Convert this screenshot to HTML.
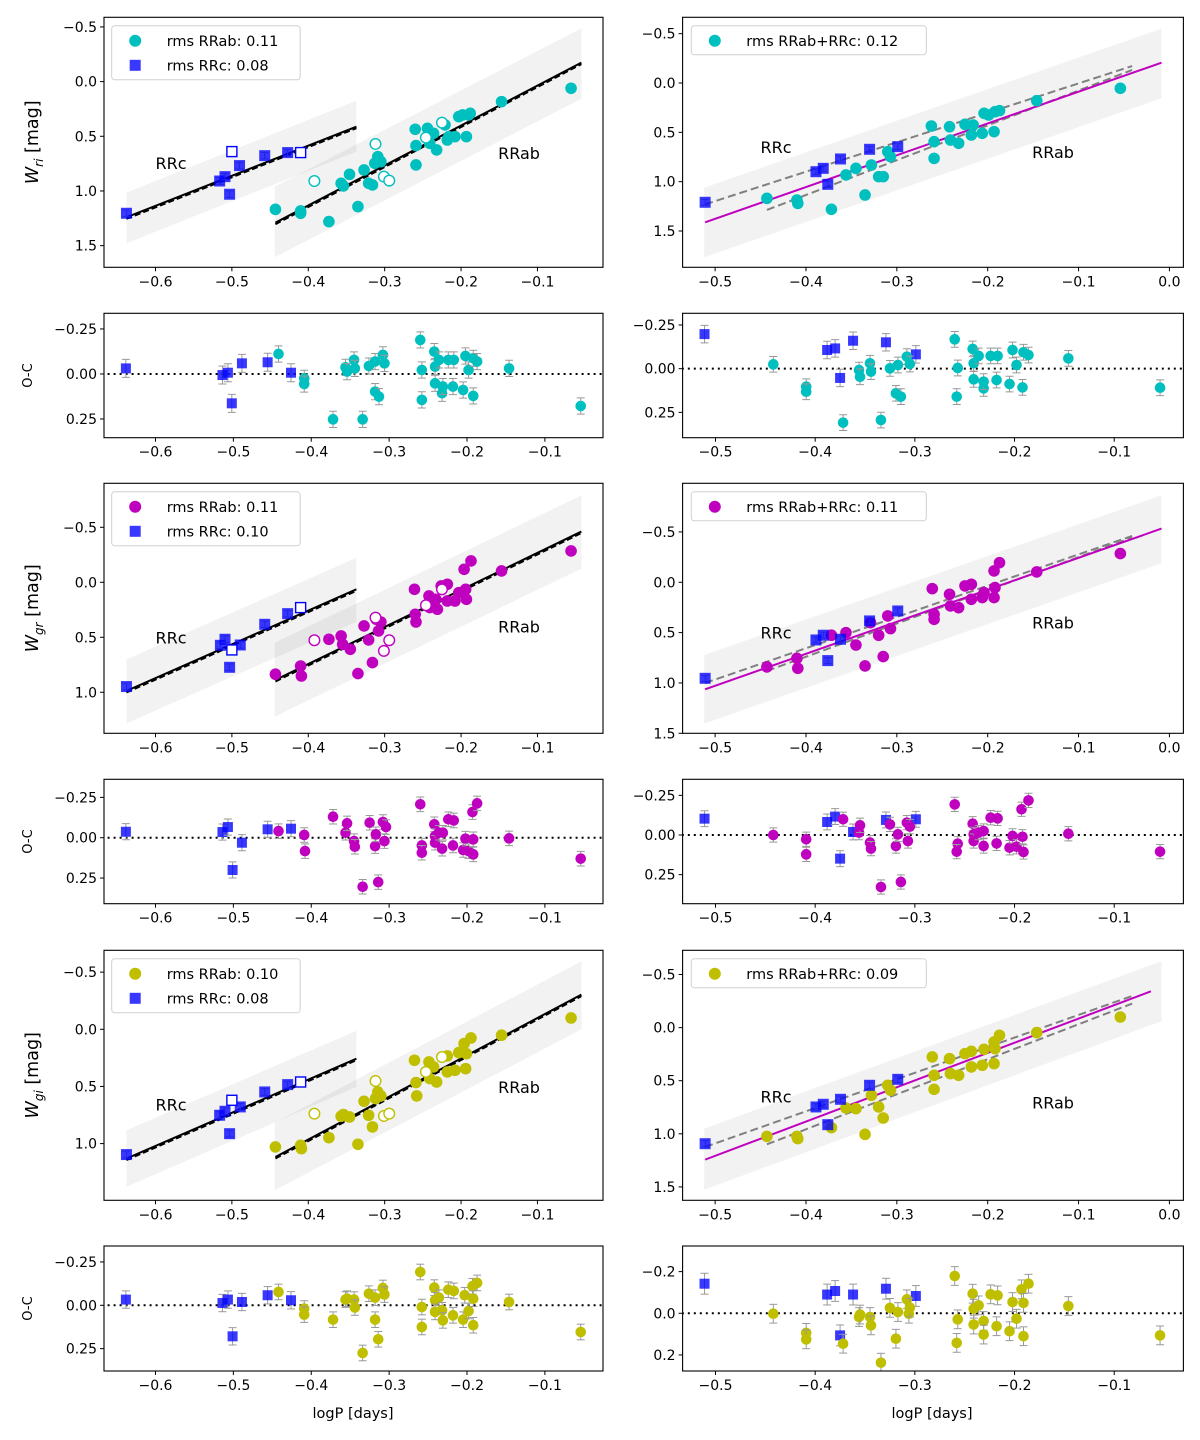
<!DOCTYPE html>
<html><head><meta charset="utf-8"><style>
html,body{margin:0;padding:0;background:#fff;}
svg{display:block;font-family:"DejaVu Sans","Liberation Sans",sans-serif;}
</style></head><body>
<svg id="fig" width="1200" height="1440" viewBox="0 0 1200 1440" xmlns="http://www.w3.org/2000/svg"></svg>
<script>
// ===== DATA (logP [days], magnitude) =====
// Row 1 : W_ri
const ri_rrab = [[-0.443,1.168],[-0.410,1.204],[-0.410,1.183],[-0.373,1.280],[-0.357,0.930],[-0.354,0.954],[-0.346,0.848],[-0.335,1.143],[-0.327,0.808],[-0.321,0.930],[-0.316,0.945],[-0.313,0.747],[-0.309,0.686],[-0.305,0.732],[-0.260,0.436],[-0.259,0.585],[-0.259,0.762],[-0.244,0.427],[-0.241,0.564],[-0.236,0.473],[-0.232,0.625],[-0.221,0.396],[-0.218,0.534],[-0.216,0.503],[-0.208,0.503],[-0.203,0.320],[-0.198,0.305],[-0.193,0.503],[-0.190,0.305],[-0.188,0.290],[-0.147,0.183],[-0.056,0.061]];
const ri_rrab_open = [[-0.392,0.909],[-0.312,0.570],[-0.301,0.869],[-0.294,0.905],[-0.246,0.512],[-0.225,0.375]];
const ri_rrc = [[-0.638,1.204],[-0.516,0.909],[-0.509,0.869],[-0.503,1.030],[-0.490,0.768],[-0.457,0.677],[-0.427,0.649]];
const ri_rrc_open = [[-0.500,0.640],[-0.410,0.649]];
const ri_fitRRc = [[-0.638,1.241],[-0.337,0.412]];
const ri_bandRRc = [[-0.638,1.015,1.479],[-0.337,0.174,0.640]];
const ri_fitRRab = [[-0.443,1.290],[-0.0425,-0.174]];
const ri_bandRRab = [[-0.444,0.960,1.607],[-0.0423,-0.488,0.155]];
const ri_all_rrab = [[-0.443,1.169],[-0.410,1.186],[-0.409,1.220],[-0.372,1.280],[-0.356,0.932],[-0.345,0.865],[-0.335,1.135],[-0.328,0.831],[-0.320,0.949],[-0.315,0.949],[-0.310,0.696],[-0.307,0.747],[-0.262,0.436],[-0.259,0.595],[-0.259,0.764],[-0.242,0.443],[-0.241,0.578],[-0.232,0.611],[-0.225,0.419],[-0.218,0.527],[-0.216,0.426],[-0.206,0.510],[-0.204,0.307],[-0.199,0.324],[-0.193,0.493],[-0.192,0.291],[-0.187,0.280],[-0.146,0.179],[-0.054,0.054]];
const ri_all_rrc = [[-0.511,1.209],[-0.389,0.899],[-0.381,0.865],[-0.376,1.027],[-0.362,0.770],[-0.330,0.672],[-0.299,0.645]];
const ri_all_fit = [[-0.511,1.412],[-0.0087,-0.206]];
const ri_all_band = [[-0.512,1.061,1.767],[-0.0087,-0.551,0.155]];
const ri_all_dash1 = [[-0.511,1.230],[-0.041,-0.172]];
const ri_all_dash2 = [[-0.443,1.287],[-0.041,-0.132]];
const ri_oc_rrc = [[-0.638,-0.031],[-0.514,0.006],[-0.507,-0.007],[-0.502,0.163],[-0.489,-0.059],[-0.456,-0.065],[-0.426,-0.007]];
const ri_oc_rrab = [[-0.442,-0.111],[-0.409,0.024],[-0.409,0.056],[-0.372,0.252],[-0.356,-0.037],[-0.354,-0.013],[-0.345,-0.078],[-0.344,-0.031],[-0.334,0.252],[-0.326,-0.044],[-0.318,-0.069],[-0.318,0.098],[-0.313,0.126],[-0.308,-0.106],[-0.306,-0.059],[-0.260,-0.189],[-0.258,-0.022],[-0.258,0.144],[-0.242,-0.124],[-0.241,-0.041],[-0.241,0.052],[-0.236,-0.078],[-0.232,0.107],[-0.231,0.070],[-0.224,-0.078],[-0.218,0.070],[-0.217,-0.078],[-0.205,0.089],[-0.202,-0.100],[-0.198,-0.022],[-0.192,0.122],[-0.192,-0.087],[-0.187,-0.069],[-0.146,-0.031],[-0.054,0.178]];
const ri_ocall_rrc = [[-0.511,-0.198],[-0.388,-0.107],[-0.380,-0.116],[-0.375,0.053],[-0.362,-0.160],[-0.329,-0.151],[-0.299,-0.082]];
const ri_ocall_rrab = [[-0.442,-0.025],[-0.409,0.103],[-0.409,0.132],[-0.372,0.309],[-0.356,0.008],[-0.355,0.046],[-0.345,-0.031],[-0.344,0.017],[-0.334,0.294],[-0.325,-0.002],[-0.319,0.141],[-0.317,-0.021],[-0.314,0.160],[-0.308,-0.069],[-0.305,-0.027],[-0.260,-0.168],[-0.257,-0.004],[-0.258,0.160],[-0.242,-0.113],[-0.241,-0.031],[-0.241,0.061],[-0.236,-0.073],[-0.231,0.113],[-0.231,0.074],[-0.224,-0.073],[-0.218,0.065],[-0.217,-0.073],[-0.205,0.088],[-0.202,-0.107],[-0.198,-0.021],[-0.192,0.107],[-0.191,-0.094],[-0.186,-0.078],[-0.146,-0.059],[-0.054,0.109]];
// Row 2 : W_gr
const gr_rrab = [[-0.443,0.836],[-0.410,0.761],[-0.409,0.852],[-0.373,0.518],[-0.357,0.488],[-0.355,0.564],[-0.345,0.609],[-0.335,0.830],[-0.327,0.397],[-0.321,0.524],[-0.316,0.730],[-0.311,0.336],[-0.308,0.442],[-0.305,0.361],[-0.261,0.064],[-0.260,0.291],[-0.259,0.361],[-0.242,0.124],[-0.241,0.230],[-0.233,0.155],[-0.231,0.245],[-0.226,0.033],[-0.218,0.018],[-0.218,0.170],[-0.208,0.170],[-0.203,0.094],[-0.198,0.094],[-0.196,-0.118],[-0.194,0.064],[-0.193,0.155],[-0.187,-0.194],[-0.147,-0.103],[-0.056,-0.285]];
const gr_rrab_open = [[-0.392,0.527],[-0.312,0.321],[-0.301,0.624],[-0.294,0.527],[-0.246,0.209],[-0.225,0.064]];
const gr_rrc = [[-0.638,0.948],[-0.515,0.573],[-0.509,0.518],[-0.503,0.773],[-0.489,0.570],[-0.457,0.382],[-0.427,0.285]];
const gr_rrc_open = [[-0.500,0.615],[-0.410,0.230]];
const gr_fitRRc = [[-0.638,0.988],[-0.337,0.064]];
const gr_bandRRc = [[-0.638,0.700,1.282],[-0.337,-0.224,0.361]];
const gr_fitRRab = [[-0.443,0.888],[-0.0425,-0.461]];
const gr_bandRRab = [[-0.444,0.548,1.221],[-0.0423,-0.791,-0.124]];
const gr_all_rrab = [[-0.443,0.841],[-0.410,0.755],[-0.409,0.854],[-0.372,0.526],[-0.356,0.500],[-0.345,0.623],[-0.335,0.831],[-0.329,0.401],[-0.320,0.526],[-0.315,0.738],[-0.310,0.334],[-0.307,0.460],[-0.261,0.063],[-0.259,0.318],[-0.259,0.368],[-0.242,0.119],[-0.241,0.235],[-0.232,0.252],[-0.225,0.036],[-0.218,0.020],[-0.218,0.169],[-0.206,0.152],[-0.204,0.103],[-0.193,-0.113],[-0.193,0.152],[-0.192,0.053],[-0.187,-0.195],[-0.146,-0.103],[-0.054,-0.285]];
const gr_all_rrc = [[-0.511,0.954],[-0.389,0.573],[-0.381,0.526],[-0.376,0.778],[-0.362,0.566],[-0.330,0.384],[-0.299,0.285]];
const gr_all_fit = [[-0.511,1.063],[-0.0087,-0.533]];
const gr_all_band = [[-0.512,0.722,1.404],[-0.0087,-0.864,-0.189]];
const gr_all_dash1 = [[-0.511,1.000],[-0.041,-0.460]];
const gr_all_dash2 = [[-0.443,0.881],[-0.041,-0.444]];
const gr_oc_rrc = [[-0.638,-0.037],[-0.514,-0.035],[-0.507,-0.066],[-0.501,0.200],[-0.489,0.031],[-0.456,-0.052],[-0.426,-0.056]];
const gr_oc_rrab = [[-0.442,-0.041],[-0.409,-0.017],[-0.408,0.083],[-0.372,-0.130],[-0.356,-0.031],[-0.354,-0.089],[-0.345,0.021],[-0.344,0.056],[-0.334,0.304],[-0.325,-0.093],[-0.318,0.052],[-0.317,-0.021],[-0.314,0.275],[-0.308,-0.097],[-0.306,0.021],[-0.304,-0.066],[-0.260,-0.207],[-0.258,0.048],[-0.258,0.093],[-0.242,-0.083],[-0.241,-0.010],[-0.241,0.031],[-0.236,-0.031],[-0.232,0.068],[-0.231,-0.031],[-0.224,-0.114],[-0.218,0.048],[-0.217,-0.107],[-0.205,0.076],[-0.202,0.006],[-0.198,0.083],[-0.193,-0.159],[-0.192,0.010],[-0.192,0.103],[-0.187,-0.213],[-0.146,0.004],[-0.054,0.130]];
const gr_ocall_rrc = [[-0.511,-0.103],[-0.388,-0.082],[-0.380,-0.116],[-0.375,0.149],[-0.362,-0.019],[-0.329,-0.095],[-0.299,-0.099]];
const gr_ocall_rrab = [[-0.442,0.000],[-0.409,0.027],[-0.409,0.122],[-0.372,-0.099],[-0.356,-0.015],[-0.355,-0.061],[-0.345,0.048],[-0.344,0.086],[-0.334,0.328],[-0.325,-0.067],[-0.319,0.069],[-0.317,-0.004],[-0.314,0.296],[-0.308,-0.078],[-0.307,0.038],[-0.305,-0.053],[-0.260,-0.193],[-0.257,0.055],[-0.258,0.105],[-0.242,-0.071],[-0.241,-0.004],[-0.241,0.038],[-0.236,-0.015],[-0.231,0.069],[-0.231,-0.025],[-0.224,-0.109],[-0.218,0.053],[-0.217,-0.105],[-0.205,0.080],[-0.202,0.006],[-0.198,0.074],[-0.193,-0.162],[-0.192,0.011],[-0.191,0.107],[-0.186,-0.218],[-0.146,-0.008],[-0.054,0.105]];
// Row 3 : W_gi
const gi_rrab = [[-0.443,1.029],[-0.410,1.015],[-0.409,1.044],[-0.373,0.948],[-0.357,0.761],[-0.354,0.746],[-0.346,0.767],[-0.335,1.006],[-0.327,0.630],[-0.321,0.752],[-0.316,0.854],[-0.312,0.606],[-0.309,0.548],[-0.305,0.583],[-0.261,0.271],[-0.259,0.466],[-0.258,0.583],[-0.242,0.286],[-0.241,0.431],[-0.236,0.329],[-0.232,0.461],[-0.218,0.233],[-0.218,0.373],[-0.208,0.359],[-0.203,0.204],[-0.196,0.125],[-0.194,0.344],[-0.193,0.213],[-0.187,0.076],[-0.147,0.052],[-0.056,-0.099]];
const gi_rrab_open = [[-0.392,0.738],[-0.312,0.452],[-0.301,0.758],[-0.294,0.738],[-0.246,0.373],[-0.225,0.242]];
const gi_rrc = [[-0.638,1.096],[-0.516,0.752],[-0.509,0.717],[-0.503,0.913],[-0.489,0.679],[-0.457,0.548],[-0.427,0.484]];
const gi_rrc_open = [[-0.500,0.621],[-0.410,0.461]];
const gi_fitRRc = [[-0.638,1.131],[-0.337,0.257]];
const gi_bandRRc = [[-0.638,0.883,1.379],[-0.337,0.012,0.504]];
const gi_fitRRab = [[-0.443,1.117],[-0.0425,-0.303]];
const gi_bandRRab = [[-0.444,0.816,1.408],[-0.0423,-0.595,0.0]];
const gi_all_rrab = [[-0.443,1.024],[-0.410,1.024],[-0.409,1.046],[-0.372,0.942],[-0.356,0.757],[-0.345,0.763],[-0.335,1.005],[-0.328,0.637],[-0.320,0.747],[-0.315,0.851],[-0.310,0.543],[-0.307,0.590],[-0.261,0.276],[-0.259,0.449],[-0.259,0.581],[-0.242,0.292],[-0.241,0.433],[-0.232,0.449],[-0.225,0.245],[-0.218,0.223],[-0.218,0.370],[-0.206,0.355],[-0.204,0.204],[-0.193,0.135],[-0.193,0.339],[-0.192,0.198],[-0.187,0.072],[-0.146,0.047],[-0.054,-0.100]];
const gi_all_rrc = [[-0.511,1.093],[-0.389,0.747],[-0.381,0.722],[-0.376,0.914],[-0.362,0.675],[-0.330,0.543],[-0.299,0.487]];
const gi_all_fit = [[-0.511,1.243],[-0.0204,-0.342]];
const gi_all_band = [[-0.512,0.951,1.526],[-0.0087,-0.625,-0.060]];
const gi_all_dash1 = [[-0.511,1.124],[-0.041,-0.298]];
const gi_all_dash2 = [[-0.443,1.099],[-0.041,-0.226]];
const gi_oc_rrc = [[-0.638,-0.033],[-0.514,-0.013],[-0.507,-0.033],[-0.501,0.179],[-0.489,-0.019],[-0.456,-0.058],[-0.426,-0.029]];
const gi_oc_rrab = [[-0.442,-0.077],[-0.409,0.019],[-0.409,0.054],[-0.372,0.083],[-0.356,-0.033],[-0.354,-0.038],[-0.345,-0.033],[-0.344,0.013],[-0.334,0.275],[-0.326,-0.067],[-0.318,-0.044],[-0.318,0.083],[-0.314,0.196],[-0.308,-0.100],[-0.306,-0.062],[-0.260,-0.192],[-0.258,0.010],[-0.258,0.125],[-0.242,-0.102],[-0.241,-0.029],[-0.241,0.038],[-0.236,-0.044],[-0.232,0.029],[-0.231,0.087],[-0.224,-0.090],[-0.218,0.058],[-0.217,-0.083],[-0.205,0.083],[-0.203,-0.058],[-0.198,0.033],[-0.193,-0.110],[-0.192,-0.038],[-0.192,0.115],[-0.187,-0.129],[-0.146,-0.019],[-0.054,0.154]];
const gi_ocall_rrc = [[-0.511,-0.142],[-0.388,-0.090],[-0.380,-0.107],[-0.362,-0.090],[-0.375,0.106],[-0.329,-0.118],[-0.299,-0.083]];
const gi_ocall_rrab = [[-0.442,0.002],[-0.409,0.094],[-0.409,0.125],[-0.372,0.146],[-0.356,0.018],[-0.355,0.006],[-0.345,0.018],[-0.344,0.058],[-0.334,0.237],[-0.325,-0.026],[-0.319,0.122],[-0.317,-0.006],[-0.308,-0.067],[-0.306,0.002],[-0.305,-0.027],[-0.260,-0.179],[-0.257,0.029],[-0.258,0.142],[-0.242,-0.094],[-0.241,-0.022],[-0.241,0.054],[-0.236,-0.038],[-0.231,0.037],[-0.231,0.102],[-0.224,-0.091],[-0.218,0.062],[-0.217,-0.086],[-0.205,0.086],[-0.202,-0.054],[-0.198,0.026],[-0.193,-0.115],[-0.191,-0.050],[-0.191,0.110],[-0.186,-0.142],[-0.146,-0.035],[-0.054,0.106]];
// legend labels
const rmsLeft = [["rms RRab: 0.11","rms RRc: 0.08"],["rms RRab: 0.11","rms RRc: 0.10"],["rms RRab: 0.10","rms RRc: 0.08"]];
const rmsRight = ["rms RRab+RRc: 0.12","rms RRab+RRc: 0.11","rms RRab+RRc: 0.09"];
const xticksLeft = [-0.6,-0.5,-0.4,-0.3,-0.2,-0.1];
const xticksRightMain = [-0.5,-0.4,-0.3,-0.2,-0.1,0.0];
const xticksRightOC = [-0.5,-0.4,-0.3,-0.2,-0.1];

// ===== RENDERING =====
const NS = "http://www.w3.org/2000/svg";
const fig = document.getElementById('fig');
function mk(tag, attrs, parent, text) {
  const e = document.createElementNS(NS, tag);
  for (const k in attrs) e.setAttribute(k, attrs[k]);
  if (text !== undefined) e.textContent = text;
  (parent || fig).appendChild(e);
  return e;
}
function fmt(v, d) { const s = Math.abs(v).toFixed(d); return (v < -1e-9 ? "\u2212" : "") + s; }
const BLUE = "rgba(0,0,255,0.78)";
const COL = { c: "#00bfbf", m: "#bf00bf", y: "#bfbf00" };

function makePanel(name, box, xlim, ylim) {
  const [x0, y0, x1, y1] = box;
  const g = mk('g', {});
  
  
  const p = {
    g, box,
    sx: v => x0 + (v - xlim[0]) / (xlim[1] - xlim[0]) * (x1 - x0),
    sy: v => y0 + (v - ylim[0]) / (ylim[1] - ylim[0]) * (y1 - y0)
  };
  const cp = mk('clipPath', { id: 'clip-' + name }, g);
  mk('rect', { x: x0, y: y0, width: x1 - x0, height: y1 - y0 }, cp);
  p.plot = mk('g', { 'clip-path': 'url(#clip-' + name + ')' }, g);
  return p;
}
function frame(p, xticks, xd, yticks, yd) {
  const [x0, y0, x1, y1] = p.box;
  const fr = mk('rect', { x: x0, y: y0, width: x1 - x0, height: y1 - y0, fill: 'none', stroke: '#000', 'stroke-width': 1.1 }, p.g);
  
  
  xticks.forEach(t => {
    const X = p.sx(t);
    mk('line', { x1: X, x2: X, y1: y1, y2: y1 + 4, stroke: '#000', 'stroke-width': 1 }, p.g);
    const tx = mk('text', { x: X, y: y1 + 19, 'text-anchor': 'middle', 'font-size': 14 }, p.g, fmt(t, xd));
    
    
  });
  yticks.forEach(t => {
    const Y = p.sy(t);
    mk('line', { x1: x0 - 4, x2: x0, y1: Y, y2: Y, stroke: '#000', 'stroke-width': 1 }, p.g);
    const ty = mk('text', { x: x0 - 7, y: Y + 5, 'text-anchor': 'end', 'font-size': 14 }, p.g, fmt(t, yd));
    
    
  });
}
function band(p, b, nm) {
  const pts = [[b[0][0], b[0][1]], [b[1][0], b[1][1]], [b[1][0], b[1][2]], [b[0][0], b[0][2]]]
    .map(q => p.sx(q[0]).toFixed(1) + ',' + p.sy(q[1]).toFixed(1)).join(' ');
  const e = mk('polygon', { points: pts, fill: '#000', 'fill-opacity': 0.05 }, p.plot);
  
  
}
function fitLine(p, l, color, w, dash, nm, dy) {
  const e = mk('line', { x1: p.sx(l[0][0]), y1: p.sy(l[0][1]) + (dy || 0), x2: p.sx(l[1][0]), y2: p.sy(l[1][1]) + (dy || 0), stroke: color, 'stroke-width': w }, p.plot);
  if (dash) e.setAttribute('stroke-dasharray', dash);
  
  
}
function errbar(p, x, y, err) {
  const X = p.sx(x), Ya = p.sy(y - err), Yb = p.sy(y + err);
  mk('line', { x1: X, x2: X, y1: Ya, y2: Yb, stroke: '#999', 'stroke-width': 1 }, p.plot);
  mk('line', { x1: X - 4, x2: X + 4, y1: Ya, y2: Ya, stroke: '#999', 'stroke-width': 1 }, p.plot);
  mk('line', { x1: X - 4, x2: X + 4, y1: Yb, y2: Yb, stroke: '#999', 'stroke-width': 1 }, p.plot);
}
function circles(p, data, color, open, err, nm, r) {
  data.forEach(d => {
    if (err) errbar(p, d[0], d[1], err);
    const c = mk('circle', { cx: p.sx(d[0]), cy: p.sy(d[1]), r: r || 5.8, fill: open ? '#fff' : color, stroke: color, 'stroke-width': open ? 1.4 : 0 }, p.plot);
    
    
  });
}
function squares(p, data, open, err, nm, s) {
  s = s || 11;
  data.forEach(d => {
    if (err) errbar(p, d[0], d[1], err);
    const q = mk('rect', { x: p.sx(d[0]) - s / 2, y: p.sy(d[1]) - s / 2, width: s, height: s, fill: open ? '#fff' : BLUE, stroke: open ? '#0000ff' : 'none', 'stroke-width': 1.4 }, p.plot);
    
    
  });
}
function txt(x, y, s, size, nm, anchor, rot) {
  const a = { x, y, 'font-size': size, 'text-anchor': anchor || 'middle' };
  if (rot) a.transform = 'rotate(-90 ' + x + ' ' + y + ')';
  const e = mk('text', a, fig, s);
  
  
  return e;
}
function legendBox(x, y, w, h, entries, color, nm) {
  const g = mk('g', {});
  
  
  mk('rect', { x, y, width: w, height: h, rx: 3, fill: '#fff', 'fill-opacity': 0.85, stroke: '#d0d0d0', 'stroke-width': 1 }, g);
  entries.forEach((en, i) => {
    const cy = y + 15 + i * 24.5;
    if (en.sq) mk('rect', { x: x + 18, y: cy - 5.5, width: 11, height: 11, fill: BLUE }, g);
    else mk('circle', { cx: x + 23.5, cy: cy, r: 6, fill: color }, g);
    const t = mk('text', { x: x + 55, y: cy + 5, 'font-size': 14.5 }, g, en.label);
    
    
  });
}

const LX = [104, 603], RX = [682.6, 1183.4];
const rows = [
  { main: [17.3, 267.3], oc: [313.3, 437.7], c: COL.c, lab: 'ri',
    yl: [-0.588, 1.698], yr: [-0.666, 1.868], ocl: [-0.337, 0.354], ocr: [-0.317, 0.395],
    ytl: [-0.5, 0, 0.5, 1.0, 1.5], ytr: [-0.5, 0, 0.5, 1.0, 1.5], octl: [-0.25, 0, 0.25], octr: [-0.25, 0, 0.25], ocrd: 2,
    d: { rrab: ri_rrab, rrabO: ri_rrab_open, rrc: ri_rrc, rrcO: ri_rrc_open, fc: ri_fitRRc, bc: ri_bandRRc, fa: ri_fitRRab, ba: ri_bandRRab,
      arab: ri_all_rrab, arc: ri_all_rrc, af: ri_all_fit, ab: ri_all_band, d1: ri_all_dash1, d2: ri_all_dash2,
      ocrc: ri_oc_rrc, ocab: ri_oc_rrab, ocarc: ri_ocall_rrc, ocaab: ri_ocall_rrab },
    rrcL: [156, 163], rrabL: [519, 153], rrcR: [776, 147], rrabR: [1053, 152] },
  { main: [483.3, 733.3], oc: [779.3, 903.7], c: COL.m, lab: 'gr',
    yl: [-0.900, 1.373], yr: [-0.983, 1.50], ocl: [-0.362, 0.409], ocr: [-0.351, 0.433],
    ytl: [-0.5, 0, 0.5, 1.0], ytr: [-0.5, 0, 0.5, 1.0, 1.5], octl: [-0.25, 0, 0.25], octr: [-0.25, 0, 0.25], ocrd: 2,
    d: { rrab: gr_rrab, rrabO: gr_rrab_open, rrc: gr_rrc, rrcO: gr_rrc_open, fc: gr_fitRRc, bc: gr_bandRRc, fa: gr_fitRRab, ba: gr_bandRRab,
      arab: gr_all_rrab, arc: gr_all_rrc, af: gr_all_fit, ab: gr_all_band, d1: gr_all_dash1, d2: gr_all_dash2,
      ocrc: gr_oc_rrc, ocab: gr_oc_rrab, ocarc: gr_ocall_rrc, ocaab: gr_ocall_rrab },
    rrcL: [156, 637.7], rrabL: [519, 626.7], rrcR: [776, 632.7], rrabR: [1053, 622.7] },
  { main: [950.3, 1200.3], oc: [1246, 1371], c: COL.y, lab: 'gi',
    yl: [-0.691, 1.496], yr: [-0.728, 1.626], ocl: [-0.342, 0.379], ocr: [-0.323, 0.277],
    ytl: [-0.5, 0, 0.5, 1.0], ytr: [-0.5, 0, 0.5, 1.0, 1.5], octl: [-0.25, 0, 0.25], octr: [-0.2, 0, 0.2], ocrd: 1,
    d: { rrab: gi_rrab, rrabO: gi_rrab_open, rrc: gi_rrc, rrcO: gi_rrc_open, fc: gi_fitRRc, bc: gi_bandRRc, fa: gi_fitRRab, ba: gi_bandRRab,
      arab: gi_all_rrab, arc: gi_all_rrc, af: gi_all_fit, ab: gi_all_band, d1: gi_all_dash1, d2: gi_all_dash2,
      ocrc: gi_oc_rrc, ocab: gi_oc_rrab, ocarc: gi_ocall_rrc, ocaab: gi_ocall_rrab },
    rrcL: [156, 1104.3], rrabL: [519, 1087], rrcR: [776, 1096.3], rrabR: [1053, 1102.7] }
];

rows.forEach((R, i) => {
  const d = R.d;
  const pl = makePanel('w' + R.lab + '-separate-fit-panel', [LX[0], R.main[0], LX[1], R.main[1]], [-0.6674, -0.0142], R.yl);
  band(pl, d.bc, 'rrc-scatter-band'); band(pl, d.ba, 'rrab-scatter-band');
  fitLine(pl, d.fc, '#000', 2, '6,3', 'rrc-fit-dashed', 1.5); fitLine(pl, d.fc, '#000', 2, null, 'rrc-fit-line');
  fitLine(pl, d.fa, '#000', 2, '6,3', 'rrab-fit-dashed', 1.5); fitLine(pl, d.fa, '#000', 2, null, 'rrab-fit-line');
  circles(pl, d.rrab, R.c, false, 0.035, 'rrab-point');
  circles(pl, d.rrabO, R.c, true, 0, 'rrab-excluded-point', 5.3);
  squares(pl, d.rrc, false, 0.03, 'rrc-point');
  squares(pl, d.rrcO, true, 0, 'rrc-excluded-point', 10);
  frame(pl, xticksLeft, 1, R.ytl, 1);
  const pr = makePanel('w' + R.lab + '-combined-fit-panel', [RX[0], R.main[0], RX[1], R.main[1]], [-0.5358, 0.0154], R.yr);
  band(pr, d.ab, 'combined-scatter-band');
  fitLine(pr, d.d1, '#808080', 2, '8,4', 'reference-fit-dashed-1');
  fitLine(pr, d.d2, '#808080', 2, '8,4', 'reference-fit-dashed-2');
  fitLine(pr, d.af, '#bf00bf', 2, null, 'combined-fit-line');
  circles(pr, d.arab, R.c, false, 0.035, 'rrab-point');
  squares(pr, d.arc, false, 0.03, 'rrc-point');
  frame(pr, xticksRightMain, 1, R.ytr, 1);
  const ol = makePanel('w' + R.lab + '-residuals-left', [LX[0], R.oc[0], LX[1], R.oc[1]], [-0.6661, -0.0254], R.ocl);
  fitLine(ol, [[-0.7, 0], [0, 0]], '#000', 2, '2,4', 'zero-line');
  squares(ol, d.ocrc, false, 0.05, 'rrc-residual', 10);
  circles(ol, d.ocab, R.c, false, 0.045, 'rrab-residual', 5.3);
  frame(ol, xticksLeft, 1, R.octl, 2);
  const or = makePanel('w' + R.lab + '-residuals-right', [RX[0], R.oc[0], RX[1], R.oc[1]], [-0.533, -0.0306], R.ocr);
  fitLine(or, [[-0.6, 0], [0.1, 0]], '#000', 2, '2,4', 'zero-line');
  squares(or, d.ocarc, false, 0.05, 'rrc-residual', 10);
  circles(or, d.ocaab, R.c, false, 0.045, 'rrab-residual', 5.3);
  frame(or, xticksRightOC, 1, R.octr, R.ocrd);
  legendBox(111.7, R.main[0] + 8.5, 188.5, 54, [{ label: rmsLeft[i][0] }, { label: rmsLeft[i][1], sq: true }], R.c, 'legend-left-' + R.lab);
  legendBox(691.3, R.main[0] + 8.5, 235, 29, [{ label: rmsRight[i] }], R.c, 'legend-right-' + R.lab);
  txt(R.rrcL[0] + 15, R.rrcL[1] + 6, 'RRc', 16, 'rrc-annotation');
  txt(R.rrabL[0], R.rrabL[1] + 6, 'RRab', 16, 'rrab-annotation');
  txt(R.rrcR[0], R.rrcR[1] + 6, 'RRc', 16, 'rrc-annotation');
  txt(R.rrabR[0], R.rrabR[1] + 6, 'RRab', 16, 'rrab-annotation');
  const ym = (R.main[0] + R.main[1]) / 2;
  const yl = txt(38, ym, '', 17.5, 'y-axis-title', 'middle', true);
  mk('tspan', { 'font-style': 'italic' }, yl, 'W');
  mk('tspan', { 'font-style': 'italic', 'font-size': 12, dy: 5 }, yl, R.lab);
  mk('tspan', { dy: -5 }, yl, ' [mag]');
  txt(32, (R.oc[0] + R.oc[1]) / 2, 'O-C', 13, 'oc-axis-title', 'middle', true);
});
txt(353, 1418, 'logP [days]', 14.5, 'x-axis-title-left');
txt(932, 1418, 'logP [days]', 14.5, 'x-axis-title-right');
</script>
</body></html>
